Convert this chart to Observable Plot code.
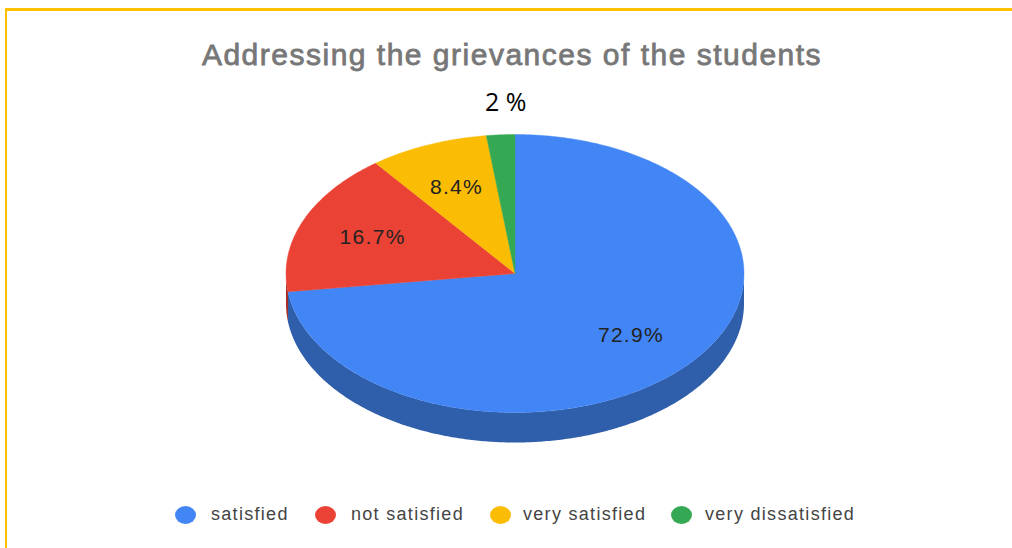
<!DOCTYPE html>
<html>
<head>
<meta charset="utf-8">
<script src="https://cdn.jsdelivr.net/npm/d3@7"></script>
<script src="https://cdn.jsdelivr.net/npm/@observablehq/plot@0.6"></script>
<style>
  html, body { margin: 0; padding: 0; background: #fff; overflow: hidden; }
  #page { position: relative; width: 1012px; height: 548px; overflow: hidden; font-family: "Liberation Sans", Arial, sans-serif; }
  #page svg { position: absolute; left: 0; top: 0; background: transparent; }
  #page svg text { letter-spacing: 1.3px; }
  .frame { position: absolute; background: #ffc000; }
  #title { position: absolute; left: 0; width: 1024px; top: 38px; text-align: center; font-size: 30px; font-weight: normal; -webkit-text-stroke: 0.8px #777; color: #777; letter-spacing: 1.5px; white-space: nowrap; }
  #note { position: absolute; left: 485px; top: 84px; font-family: "Open Sans", sans-serif; font-size: 25px; color: #000; white-space: nowrap; }
  .key { position: absolute; top: 506px; height: 18px; border-radius: 50%; width: 21px; }
  .keytext { position: absolute; top: 504px; font-size: 18px; letter-spacing: 1.3px; color: #444; white-space: nowrap; }
</style>
</head>
<body>
<div id="page">
  <div class="frame" style="left:5px;top:8px;width:1007px;height:3px"></div>
  <div class="frame" style="left:5px;top:8px;width:2px;height:540px"></div>
  <div id="title"></div>
  <div id="note"></div>
</div>
<script>
const titleText = "Addressing the grievances of the students";
const categories = ["satisfied", "not satisfied", "very satisfied", "very dissatisfied"];
const values = [72.9, 16.7, 8.4, 2];
const valueLabels = ["72.9%", "16.7%", "8.4%", ""];
const noteText = "2 %";
const topColors = ["#4285f4", "#ea4335", "#fbbc04", "#34a853"];
const sideColors = ["#2f5eab", "#a32f25", "#b08403", "#24753a"];
const legendX = [175, 315, 490, 671];
const legendTextX = [211, 351, 523, 705];

const cx = 514.5, cy = 273, rx = 229, ry = 139, depthPx = 30;
const depth = depthPx / ry;
const total = d3.sum(values);
const turn = 2 * Math.PI;
const pt = (a, r = 1, drop = 0) => ({x: r * Math.sin(a), y: r * Math.cos(a) - drop});
const arc = (a0, a1, drop = 0) => {
  const n = Math.max(2, Math.ceil(Math.abs(a1 - a0) / 0.01));
  return d3.range(n + 1).map(i => pt(a0 + (a1 - a0) * i / n, 1, drop));
};

let acc = 0;
const slices = values.map((v, i) => {
  const a0 = acc / total * turn;
  acc += v;
  const a1 = acc / total * turn;
  return {i, a0, a1, mid: (a0 + a1) / 2};
});

const marks = [];
// Extruded rim: only the front half of the ellipse (angles from PI/2 to 3PI/2) is visible.
for (const s of slices) {
  const a0 = Math.max(s.a0, Math.PI / 2), a1 = Math.min(s.a1, 3 * Math.PI / 2);
  if (a1 > a0) {
    const rim = [...arc(a0, a1), ...arc(a1, a0, depth)];
    marks.push(Plot.line(rim, {x: "x", y: "y", fill: sideColors[s.i], stroke: "none"}));
  }
}
// Top face.
for (const s of slices) {
  const wedge = [{x: 0, y: 0}, ...arc(s.a0, s.a1), {x: 0, y: 0}];
  marks.push(Plot.line(wedge, {x: "x", y: "y", fill: topColors[s.i], stroke: topColors[s.i], strokeWidth: 0.4}));
}
const labelData = slices.filter(s => valueLabels[s.i]).map(s => ({...pt(s.mid, 0.673), label: valueLabels[s.i]}));
marks.push(Plot.text(labelData, {
  x: "x", y: "y", text: "label", fill: "#222", fontSize: 21,
  fontFamily: "Liberation Sans, Arial, sans-serif"
}));

const chart = Plot.plot({
  width: 1012, height: 548,
  margin: 0,
  x: {domain: [-1, 1], range: [cx - rx, cx + rx], axis: null},
  y: {domain: [-1, 1], range: [cy + ry, cy - ry], axis: null},
  marks
});
const page = document.getElementById("page");
page.insertBefore(chart, page.firstChild);
document.getElementById("title").textContent = titleText;
document.getElementById("note").textContent = noteText;
categories.forEach((c, i) => {
  const k = document.createElement("div");
  k.className = "key";
  k.style.left = legendX[i] + "px";
  k.style.background = topColors[i];
  page.appendChild(k);
  const t = document.createElement("div");
  t.className = "keytext";
  t.style.left = legendTextX[i] + "px";
  t.textContent = c;
  page.appendChild(t);
});
</script>
</body>
</html>
